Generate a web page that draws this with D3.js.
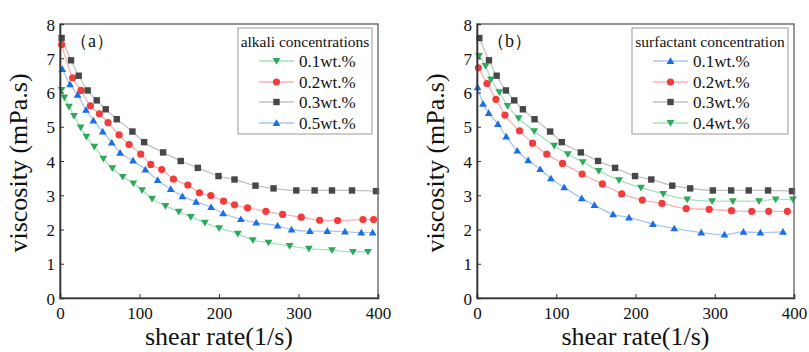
<!DOCTYPE html>
<html><head><meta charset="utf-8">
<script src="https://cdn.jsdelivr.net/npm/d3@7"></script>
<style>body{margin:0;background:#fff}svg{display:block}</style>
</head><body>
<svg id="c" width="809" height="352"></svg>
<script>
// ---------- DATA ----------
const xTicks = [0, 100, 200, 300, 400];
const yTicks = [0, 1, 2, 3, 4, 5, 6, 7, 8];
const xLabel = "shear rate(1/s)";
const yLabel = "viscosity (mPa.s)";

// Panel (a): alkali concentrations
const aTitle = "alkali concentrations";
const aNames = ["0.1wt.%", "0.2wt.%", "0.3wt.%", "0.5wt.%"];
const a01x = [2,5.5,11.3,17.6,26,33.2,43.2,54.6,65.9,78.9,92.3,103.3,115.8,132.6,149.4,164.5,182.2,200.2,223.7,242.6,262.3,288.8,313.1,342.1,368.5,387.4];
const a01y = [6.08,5.86,5.59,5.32,4.98,4.71,4.42,4.07,3.79,3.54,3.35,3.15,2.90,2.69,2.52,2.37,2.20,2.04,1.88,1.69,1.62,1.52,1.44,1.40,1.35,1.35];
const a02x = [2,15.9,26.4,38.2,49.5,60.4,74.3,86.9,101.6,114.2,128,142.7,160.8,175.4,189.7,205.7,219.5,235.9,259,280,303.5,326.6,349.2,381.1,394.5];
const a02y = [7.40,6.43,6.06,5.61,5.38,5.12,4.76,4.48,4.20,3.90,3.75,3.47,3.30,3.07,2.99,2.83,2.72,2.63,2.53,2.44,2.36,2.27,2.26,2.29,2.29];
const a03x = [2,13.9,23.5,34.8,46.2,57.5,71.4,91.1,105.8,129.7,151.9,173.4,199.4,219.5,245.9,268.6,297.2,320.3,342.1,367.3,397.5];
const a03y = [7.59,6.94,6.49,6.06,5.77,5.51,5.22,4.86,4.55,4.25,4.00,3.80,3.56,3.46,3.28,3.20,3.14,3.14,3.14,3.14,3.12];
const a05x = [2.9,12.6,22.2,32.7,42,53.7,65.1,75.6,91.9,107.4,122.9,139.3,154,171.2,190.1,205.2,227.5,246.8,273.7,291.3,314.4,336.2,358.4,379,393.3];
const a05y = [6.68,6.24,5.93,5.49,5.18,4.86,4.54,4.24,4.01,3.75,3.44,3.18,2.97,2.81,2.65,2.47,2.30,2.20,2.11,2.00,1.95,1.95,1.94,1.91,1.91];

// Panel (b): surfactant concentration
const bTitle = "surfactant concentration";
const bNames = ["0.1wt.%", "0.2wt.%", "0.3wt.%", "0.4wt.%"];
const b01x = [0.8,7.6,14.7,26.4,36.9,50.8,64.6,79.7,93.2,110,132.2,148.2,171.7,191.8,222,248.9,282.9,312.3,336.2,357.6,386.1];
const b01y = [6.15,5.67,5.40,5.08,4.71,4.30,4.02,3.76,3.49,3.23,2.91,2.71,2.44,2.35,2.16,2.03,1.91,1.85,1.93,1.91,1.93];
const b02x = [1.7,12.6,23.9,35.3,53.7,70.1,88.1,107.9,132.6,158.2,182.6,208.6,233.4,264,293,321.1,346.7,368.1,391.6];
const b02y = [6.72,6.26,5.80,5.34,4.88,4.52,4.20,3.93,3.62,3.33,3.04,2.86,2.76,2.61,2.59,2.55,2.53,2.53,2.53];
const b03x = [2.9,15.1,24.8,36.5,47,57.9,72.6,92.3,107,131,152.8,174.2,199.4,219.9,246.4,269,297.6,320.7,342.9,367.3,397.5];
const b03y = [7.59,6.94,6.49,6.06,5.77,5.51,5.22,4.86,4.55,4.25,4.00,3.80,3.56,3.46,3.28,3.20,3.14,3.14,3.14,3.14,3.12];
const b04x = [2.5,10.9,17.6,28.1,38.6,52.5,72.2,97.4,114.6,133.5,153.6,179.2,206.9,235,265.3,296.7,322.8,355.9,376.9,398.7];
const b04y = [7.07,6.78,6.38,6.01,5.61,5.25,4.87,4.45,4.20,3.97,3.71,3.44,3.22,3.04,2.88,2.83,2.83,2.83,2.88,2.88];

// ---------- STYLES ----------
const STY = {
  green: {m: "#2ea85a", l: "#a3e3bd", sym: "down"},
  red:   {m: "#f23b3b", l: "#ffb0b0", sym: "circle"},
  gray:  {m: "#474747", l: "#c2c2c2", sym: "square"},
  blue:  {m: "#1c6fe3", l: "#a6c7f3", sym: "up"}
};

const panels = [
  {left: 60, right: 378, tag: "（a）", title: aTitle, legX: 238, legW: 134,
   series: [
     {name: aNames[0], x: a01x, y: a01y, s: STY.green},
     {name: aNames[1], x: a02x, y: a02y, s: STY.red},
     {name: aNames[2], x: a03x, y: a03y, s: STY.gray},
     {name: aNames[3], x: a05x, y: a05y, s: STY.blue}]},
  {left: 477, right: 794, tag: "（b）", title: bTitle, legX: 632, legW: 156,
   series: [
     {name: bNames[0], x: b01x, y: b01y, s: STY.blue},
     {name: bNames[1], x: b02x, y: b02y, s: STY.red},
     {name: bNames[2], x: b03x, y: b03y, s: STY.gray},
     {name: bNames[3], x: b04x, y: b04y, s: STY.green}]}
];
const plotTop = 24, plotBottom = 298;
const FONT = "'Liberation Serif','Times New Roman',serif";
const svg = d3.select("#c");

function marker(g, sym, cx, cy, color) {
  if (sym === "circle") {
    g.append("circle").attr("cx", cx).attr("cy", cy).attr("r", 3.6).attr("fill", color);
  } else if (sym === "square") {
    g.append("rect").attr("x", cx - 3.2).attr("y", cy - 3.2).attr("width", 6.4).attr("height", 6.4).attr("fill", color);
  } else {
    const h = 6.4, w = 3.9, d = sym === "up" ? 1 : -1;
    const pts = [[cx, cy - d * h * 0.6], [cx - w, cy + d * h * 0.45], [cx + w, cy + d * h * 0.45]];
    g.append("path").attr("d", "M" + pts.map(p => p.join(",")).join("L") + "Z").attr("fill", color);
  }
}

panels.forEach(p => {
  const x = d3.scaleLinear().domain([0, 400]).range([p.left, p.right]);
  const y = d3.scaleLinear().domain([0, 8]).range([plotBottom, plotTop]);
  const g = svg.append("g");

  // lines
  const line = d3.line().x(d => x(d[0])).y(d => y(d[1])).curve(d3.curveMonotoneX);
  p.series.forEach(s => {
    const pts = s.x.map((v, i) => [v, s.y[i]]);
    g.append("path").attr("d", line(pts)).attr("fill", "none")
      .attr("stroke", s.s.l).attr("stroke-width", 1.3);
  });
  p.series.forEach(s => {
    s.x.forEach((v, i) => marker(g, s.s.sym, x(v), y(s.y[i]), s.s.m));
  });

  // frame
  g.append("rect").attr("x", p.left).attr("y", plotTop).attr("width", p.right - p.left)
    .attr("height", plotBottom - plotTop).attr("fill", "none").attr("stroke", "#6a6a6a").attr("stroke-width", 1.4);

  // axes
  const xa = g.append("g").attr("transform", `translate(0,${plotBottom})`)
    .call(d3.axisBottom(x).tickValues(xTicks).tickSize(-4).tickPadding(9));
  const ya = g.append("g").attr("transform", `translate(${p.left},0)`)
    .call(d3.axisLeft(y).tickValues(yTicks).tickSize(-4).tickPadding(5));
  [xa, ya].forEach(a => {
    a.select(".domain").attr("stroke", "#333").attr("stroke-width", 1.6);
    a.selectAll(".tick line").attr("stroke", "#333").attr("stroke-width", 1);
    a.selectAll(".tick text").attr("font-family", FONT).attr("font-size", 17).attr("fill", "#111");
  });
  ya.selectAll(".tick text").attr("dy", "0.36em");

  // axis titles
  g.append("text").attr("x", (p.left + p.right) / 2).attr("y", 345).attr("text-anchor", "middle")
    .attr("font-family", FONT).attr("font-size", 26).attr("fill", "#111").text(xLabel);
  g.append("text").attr("transform", `translate(${p.left - 33},${(plotTop + plotBottom) / 2 + 2}) rotate(-90)`)
    .attr("text-anchor", "middle").attr("font-family", FONT).attr("font-size", 26).attr("fill", "#111").text(yLabel);

  // panel tag
  g.append("text").attr("x", p.left + 10).attr("y", 47).attr("font-family", FONT)
    .attr("font-size", 18).attr("fill", "#111").text(p.tag);

  // legend
  const lg = g.append("g");
  lg.append("rect").attr("x", p.legX).attr("y", 28).attr("width", p.legW).attr("height", 106)
    .attr("fill", "#fff").attr("stroke", "#999").attr("stroke-width", 1);
  lg.append("text").attr("x", p.legX + p.legW / 2).attr("y", 47).attr("text-anchor", "middle")
    .attr("font-family", FONT).attr("font-size", 15.5).attr("fill", "#111").text(p.title);
  const ys = [61, 82, 102, 123];
  p.series.forEach((s, i) => {
    const lx = p.legX + 21, cy = ys[i];
    lg.append("line").attr("x1", lx).attr("x2", lx + 35).attr("y1", cy).attr("y2", cy)
      .attr("stroke", s.s.l).attr("stroke-width", 1.3);
    marker(lg, s.s.sym, lx + 17.5, cy, s.s.m);
    lg.append("text").attr("x", lx + 40).attr("y", cy).attr("dy", "0.35em")
      .attr("font-family", FONT).attr("font-size", 17).attr("fill", "#111").text(s.name);
  });
});
</script>
</body></html>
